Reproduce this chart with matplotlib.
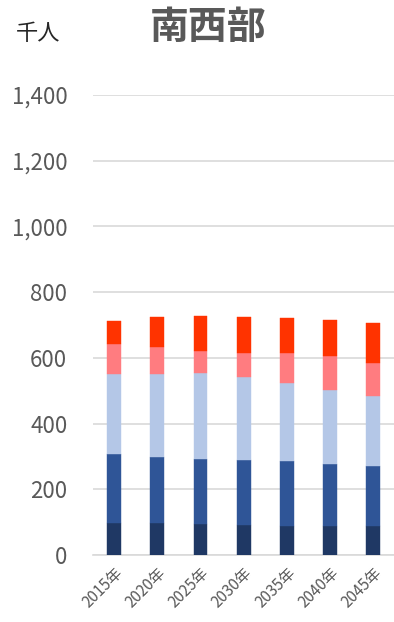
import matplotlib
matplotlib.use("Agg")
import matplotlib.pyplot as plt
import numpy as np

plt.rcParams['font.family'] = ['Noto Sans CJK JP', 'DejaVu Sans']

years = ["2015年", "2020年", "2025年", "2030年", "2035年", "2040年", "2045年"]
seg1 = [97, 96, 93, 90, 87, 87, 87]
seg2 = [211, 202, 198, 199, 198, 191, 185]
seg3 = [244, 253, 262, 254, 240, 223, 212]
seg4 = [89, 83, 67, 72, 90, 104, 101]
seg5 = [70, 91, 108, 110, 106, 110, 122]
series = [seg1, seg2, seg3, seg4, seg5]
colors = ["#1F3864", "#2F5597", "#B4C7E7", "#FF7C80", "#FF3300"]
yticks = [0, 200, 400, 600, 800, 1000, 1200, 1400]

fig = plt.figure(figsize=(3.94, 6.22), dpi=100)
ax = fig.add_axes([93/394, 67/622, 1 - 93/394, (555-95)/622])

x = np.arange(len(years))
bottom = np.zeros(len(years))
for vals, c in zip(series, colors):
    ax.bar(x, vals, width=0.32, bottom=bottom, color=c, edgecolor=c, linewidth=0.3, zorder=3)
    bottom += np.array(vals)

ax.set_ylim(0, 1400)
ax.set_xlim(-0.49, 6.48)
ax.set_yticks(yticks)
ax.set_yticklabels([f"{v:,}" for v in yticks], fontsize=16, color="#595959")
ax.yaxis.grid(True, color="#D9D9D9", linewidth=1.2, zorder=0)
ax.tick_params(axis='y', length=0, pad=18.5)
ax.set_xticks(x)
ax.set_xticklabels(years, rotation=45, ha='right', rotation_mode='anchor', fontsize=11, color="#595959")
ax.tick_params(axis='x', length=0, pad=7)
for s in ["top", "right", "left"]:
    ax.spines[s].set_visible(False)
ax.spines["bottom"].set_color("#D9D9D9")
ax.spines["bottom"].set_linewidth(1.2)

fig.text(208/394, 1 - 27/622, "南西部", fontsize=28, fontweight='bold', color="#595959", ha='center', va='center')
fig.text(38/394, 1 - 34/622, "千人", fontsize=16, color="#262626", ha='center', va='center')

fig.savefig("out.png", dpi=100)
